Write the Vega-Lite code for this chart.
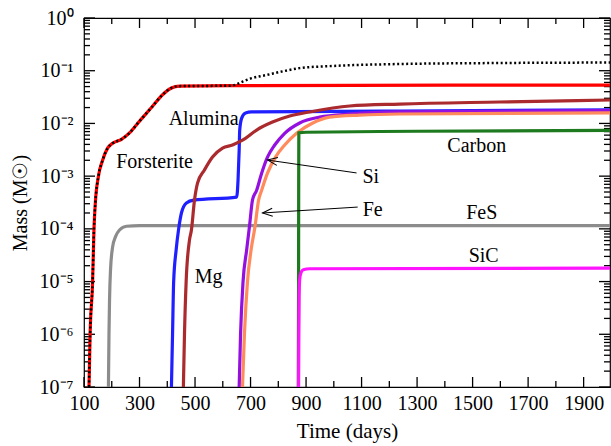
{
  "$schema": "https://vega.github.io/schema/vega-lite/v6.json",
  "width": 526,
  "height": 369,
  "autosize": {"type": "none"},
  "padding": {"left": 84, "top": 18, "right": 1, "bottom": 59},
  "background": "white",
  "config": {
    "view": {"stroke": "black", "strokeWidth": 1.2},
    "axis": {
      "labelFont": "Liberation Serif",
      "labelFontSize": 20,
      "labelColor": "black",
      "titleFont": "Liberation Serif",
      "titleFontSize": 20,
      "titleFontWeight": "normal",
      "titleColor": "black",
      "grid": false,
      "domain": false
    }
  },
  "datasets": {
    "curves": [
      {"s": "FeS", "t": 188, "m": 1e-7},
      {"s": "FeS", "t": 190, "m": 1e-6},
      {"s": "FeS", "t": 192, "m": 4.5e-6},
      {"s": "FeS", "t": 195.5, "m": 1.65e-5},
      {"s": "FeS", "t": 203, "m": 4.5e-5},
      {"s": "FeS", "t": 214, "m": 7.2e-5},
      {"s": "FeS", "t": 228, "m": 9.5e-5},
      {"s": "FeS", "t": 253, "m": 1.12e-4},
      {"s": "FeS", "t": 300, "m": 1.15e-4},
      {"s": "FeS", "t": 1995, "m": 1.15e-4},

      {"s": "Alumina", "t": 415, "m": 1e-7},
      {"s": "Alumina", "t": 419, "m": 1e-6},
      {"s": "Alumina", "t": 423, "m": 1e-5},
      {"s": "Alumina", "t": 432, "m": 4e-5},
      {"s": "Alumina", "t": 441, "m": 1e-4},
      {"s": "Alumina", "t": 451, "m": 2e-4},
      {"s": "Alumina", "t": 469, "m": 3.1e-4},
      {"s": "Alumina", "t": 495, "m": 3.5e-4},
      {"s": "Alumina", "t": 650, "m": 4.0e-4},
      {"s": "Alumina", "t": 655, "m": 8.5e-4},
      {"s": "Alumina", "t": 659, "m": 3.1e-3},
      {"s": "Alumina", "t": 661, "m": 7.5e-3},
      {"s": "Alumina", "t": 668, "m": 1.26e-2},
      {"s": "Alumina", "t": 682, "m": 1.58e-2},
      {"s": "Alumina", "t": 704, "m": 1.65e-2},
      {"s": "Alumina", "t": 1237, "m": 1.72e-2},
      {"s": "Alumina", "t": 1995, "m": 1.8e-2},

      {"s": "Mg", "t": 458, "m": 1e-7},
      {"s": "Mg", "t": 462, "m": 1e-6},
      {"s": "Mg", "t": 468, "m": 1e-5},
      {"s": "Mg", "t": 480, "m": 6.1e-5},
      {"s": "Mg", "t": 487, "m": 9.5e-5},
      {"s": "Mg", "t": 498, "m": 3.5e-4},
      {"s": "Mg", "t": 509, "m": 7.4e-4},
      {"s": "Mg", "t": 534, "m": 1.31e-3},
      {"s": "Mg", "t": 563, "m": 2.3e-3},
      {"s": "Mg", "t": 599, "m": 3.4e-3},
      {"s": "Mg", "t": 635, "m": 3.9e-3},
      {"s": "Mg", "t": 671, "m": 4.8e-3},
      {"s": "Mg", "t": 722, "m": 7.5e-3},
      {"s": "Mg", "t": 779, "m": 1.06e-2},
      {"s": "Mg", "t": 841, "m": 1.38e-2},
      {"s": "Mg", "t": 913, "m": 1.65e-2},
      {"s": "Mg", "t": 1057, "m": 2.14e-2},
      {"s": "Mg", "t": 1237, "m": 2.33e-2},
      {"s": "Mg", "t": 1597, "m": 2.55e-2},
      {"s": "Mg", "t": 1995, "m": 2.78e-2},

      {"s": "Si", "t": 659, "m": 1e-7},
      {"s": "Si", "t": 664, "m": 1e-6},
      {"s": "Si", "t": 673, "m": 1e-5},
      {"s": "Si", "t": 686, "m": 4e-5},
      {"s": "Si", "t": 696, "m": 1.1e-4},
      {"s": "Si", "t": 707, "m": 3.5e-4},
      {"s": "Si", "t": 722, "m": 5.4e-4},
      {"s": "Si", "t": 740, "m": 1.14e-3},
      {"s": "Si", "t": 761, "m": 2.3e-3},
      {"s": "Si", "t": 787, "m": 3.9e-3},
      {"s": "Si", "t": 823, "m": 6.5e-3},
      {"s": "Si", "t": 877, "m": 1.02e-2},
      {"s": "Si", "t": 949, "m": 1.32e-2},
      {"s": "Si", "t": 1057, "m": 1.51e-2},
      {"s": "Si", "t": 1237, "m": 1.65e-2},
      {"s": "Si", "t": 1995, "m": 1.76e-2},

      {"s": "Fe", "t": 671, "m": 1e-7},
      {"s": "Fe", "t": 678, "m": 1e-6},
      {"s": "Fe", "t": 689, "m": 1e-5},
      {"s": "Fe", "t": 702, "m": 4e-5},
      {"s": "Fe", "t": 716, "m": 1.1e-4},
      {"s": "Fe", "t": 729, "m": 3.5e-4},
      {"s": "Fe", "t": 740, "m": 5.4e-4},
      {"s": "Fe", "t": 761, "m": 1.14e-3},
      {"s": "Fe", "t": 790, "m": 2.3e-3},
      {"s": "Fe", "t": 823, "m": 3.9e-3},
      {"s": "Fe", "t": 866, "m": 6.5e-3},
      {"s": "Fe", "t": 924, "m": 1.02e-2},
      {"s": "Fe", "t": 985, "m": 1.32e-2},
      {"s": "Fe", "t": 1093, "m": 1.44e-2},
      {"s": "Fe", "t": 1237, "m": 1.51e-2},
      {"s": "Fe", "t": 1995, "m": 1.58e-2},

      {"s": "Carbon", "t": 872, "m": 1e-7},
      {"s": "Carbon", "t": 873, "m": 1e-5},
      {"s": "Carbon", "t": 873.5, "m": 1e-3},
      {"s": "Carbon", "t": 874, "m": 6.6e-3},
      {"s": "Carbon", "t": 900, "m": 6.8e-3},
      {"s": "Carbon", "t": 1300, "m": 7.1e-3},
      {"s": "Carbon", "t": 1995, "m": 7.4e-3},

      {"s": "SiC", "t": 873, "m": 1e-7},
      {"s": "SiC", "t": 874, "m": 1e-6},
      {"s": "SiC", "t": 875, "m": 5e-6},
      {"s": "SiC", "t": 877, "m": 1.1e-5},
      {"s": "SiC", "t": 882, "m": 1.5e-5},
      {"s": "SiC", "t": 890, "m": 1.68e-5},
      {"s": "SiC", "t": 913, "m": 1.75e-5},
      {"s": "SiC", "t": 1995, "m": 1.8e-5},

      {"s": "Forsterite", "t": 118, "m": 1e-7},
      {"s": "Forsterite", "t": 122, "m": 1e-6},
      {"s": "Forsterite", "t": 131, "m": 1e-5},
      {"s": "Forsterite", "t": 136, "m": 1e-4},
      {"s": "Forsterite", "t": 141, "m": 3.2e-4},
      {"s": "Forsterite", "t": 152, "m": 1e-3},
      {"s": "Forsterite", "t": 167, "m": 2.0e-3},
      {"s": "Forsterite", "t": 185, "m": 3.4e-3},
      {"s": "Forsterite", "t": 203, "m": 4.2e-3},
      {"s": "Forsterite", "t": 235, "m": 5.0e-3},
      {"s": "Forsterite", "t": 264, "m": 6.6e-3},
      {"s": "Forsterite", "t": 293, "m": 1.0e-2},
      {"s": "Forsterite", "t": 343, "m": 2.0e-2},
      {"s": "Forsterite", "t": 383, "m": 3.5e-2},
      {"s": "Forsterite", "t": 415, "m": 4.7e-2},
      {"s": "Forsterite", "t": 444, "m": 5.1e-2},
      {"s": "Forsterite", "t": 624, "m": 5.2e-2},
      {"s": "Forsterite", "t": 1995, "m": 5.35e-2},

      {"s": "Total", "t": 118, "m": 1e-7},
      {"s": "Total", "t": 122, "m": 1e-6},
      {"s": "Total", "t": 131, "m": 1e-5},
      {"s": "Total", "t": 136, "m": 1e-4},
      {"s": "Total", "t": 141, "m": 3.2e-4},
      {"s": "Total", "t": 152, "m": 1e-3},
      {"s": "Total", "t": 167, "m": 2.0e-3},
      {"s": "Total", "t": 185, "m": 3.4e-3},
      {"s": "Total", "t": 203, "m": 4.2e-3},
      {"s": "Total", "t": 235, "m": 5.0e-3},
      {"s": "Total", "t": 264, "m": 6.6e-3},
      {"s": "Total", "t": 293, "m": 1.0e-2},
      {"s": "Total", "t": 343, "m": 2.0e-2},
      {"s": "Total", "t": 383, "m": 3.5e-2},
      {"s": "Total", "t": 415, "m": 4.7e-2},
      {"s": "Total", "t": 444, "m": 5.1e-2},
      {"s": "Total", "t": 624, "m": 5.2e-2},
      {"s": "Total", "t": 645, "m": 5.4e-2},
      {"s": "Total", "t": 668, "m": 6.1e-2},
      {"s": "Total", "t": 696, "m": 7.0e-2},
      {"s": "Total", "t": 758, "m": 8.3e-2},
      {"s": "Total", "t": 823, "m": 9.9e-2},
      {"s": "Total", "t": 877, "m": 0.112},
      {"s": "Total", "t": 996, "m": 0.123},
      {"s": "Total", "t": 1237, "m": 0.134},
      {"s": "Total", "t": 1598, "m": 0.14},
      {"s": "Total", "t": 1995, "m": 0.143}
    ],
    "labels": [
      {"s": "Forsterite", "t": 354, "m": 1.85e-3},
      {"s": "Alumina", "t": 531, "m": 0.0121},
      {"s": "Carbon", "t": 1515, "m": 3.7e-3},
      {"s": "Si", "t": 1133, "m": 9.6e-4},
      {"s": "Fe", "t": 1140, "m": 2.27e-4},
      {"s": "FeS", "t": 1533, "m": 2.0e-4},
      {"s": "SiC", "t": 1540, "m": 3.05e-5},
      {"s": "Mg", "t": 549, "m": 1.22e-5}
    ],
    "arrows": [
      {"s": "Si", "t": 761, "m": 2.02e-3, "t2": 1082, "m2": 1.15e-3},
      {"s": "Fe", "t": 743, "m": 2.0e-4, "t2": 1086, "m2": 2.59e-4}
    ]
  },
  "layer": [
    {
      "data": {"name": "labels"},
      "mark": {"type": "point", "opacity": 0},
      "encoding": {
        "x": {
          "field": "t", "type": "quantitative",
          "scale": {"domain": [100, 1995], "nice": false, "zero": false},
          "axis": {"orient": "top", "labels": false, "title": null, "values": [100,300,500,700,900,1100,1300,1500,1700,1900], "tickColor": "black", "tickWidth": 1.3, "tickSize": 10, "offset": -10, "tickRound": false, "translate": 0}
        },
        "y": {
          "field": "m", "type": "quantitative",
          "scale": {"type": "log", "domain": [1e-7, 1], "nice": false},
          "axis": {"orient": "right", "labels": false, "title": null, "values": [1e-7,1e-6,1e-5,1e-4,1e-3,1e-2,0.1,1], "tickColor": "black", "tickWidth": 1.3, "tickSize": 11, "offset": -11, "tickRound": false, "translate": 0}
        }
      }
    },
    {
      "data": {"name": "curves"},
      "transform": [{"filter": "datum.s != 'Total'"}],
      "mark": {"type": "line", "interpolate": "monotone", "strokeWidth": 3.2, "clip": true},
      "encoding": {
        "x": {
          "field": "t", "type": "quantitative",
          "scale": {"domain": [100, 1995], "nice": false, "zero": false},
          "axis": {
            "orient": "bottom", "title": "Time (days)", "ticks": false,
            "values": [100,300,500,700,900,1100,1300,1500,1700,1900],
            "labelExpr": "datum.value + ''",
            "titleFontSize": 21,
            "labelPadding": 6, "titlePadding": 7, "labelFlush": false, "labelOverlap": false
          }
        },
        "y": {
          "field": "m", "type": "quantitative",
          "scale": {"type": "log", "domain": [1e-7, 1], "nice": false},
          "axis": {
            "orient": "left", "title": "Mass (M☉)", "ticks": false,
            "values": [1e-7,1e-6,1e-5,1e-4,1e-3,1e-2,0.1,1],
            "labelExpr": "'10' + ['⁰','⁻¹','⁻²','⁻³','⁻⁴','⁻⁵','⁻⁶','⁻⁷'][-round(log(datum.value)/LN10)]",
            "labelPadding": 11, "titlePadding": 9, "labelFlush": false, "labelOverlap": false
          }
        },
        "color": {
          "field": "s", "type": "nominal", "legend": null,
          "scale": {
            "domain": ["FeS", "Alumina", "Mg", "Si", "Fe", "Carbon", "SiC", "Forsterite"],
            "range": ["#8c8c8c", "#1f1fff", "#ab2a2e", "#9410e0", "#ff8a5c", "#1e7a1e", "#ff14ff", "#ff0000"]
          }
        }
      }
    },
    {
      "data": {"name": "labels"},
      "mark": {"type": "point", "opacity": 0},
      "encoding": {
        "x": {"field": "t", "type": "quantitative", "axis": {"orient": "bottom", "labels": false, "title": null, "values": [100,300,500,700,900,1100,1300,1500,1700,1900], "tickColor": "black", "tickWidth": 1.3, "tickSize": 10, "offset": -10, "tickRound": false, "translate": 0}},
        "y": {"field": "m", "type": "quantitative", "axis": {"orient": "left", "labels": false, "title": null, "values": [1e-7,1e-6,1e-5,1e-4,1e-3,1e-2,0.1,1], "tickColor": "black", "tickWidth": 1.3, "tickSize": 11, "offset": -11, "tickRound": false, "translate": 0}}
      }
    },
    {
      "data": {"name": "labels"},
      "mark": {"type": "point", "opacity": 0},
      "encoding": {
        "x": {"field": "t", "type": "quantitative", "axis": {"orient": "bottom", "labels": false, "title": null, "values": [200,400,600,800,1000,1200,1400,1600,1800], "tickColor": "black", "tickWidth": 1.3, "tickSize": 6, "offset": -6, "tickRound": false, "translate": 0}},
        "y": {"field": "m", "type": "quantitative", "axis": {"orient": "left", "labels": false, "title": null, "values": [2e-7,3e-7,4e-7,5e-7,6e-7,7e-7,8e-7,9e-7,2e-6,3e-6,4e-6,5e-6,6e-6,7e-6,8e-6,9e-6,2e-5,3e-5,4e-5,5e-5,6e-5,7e-5,8e-5,9e-5,2e-4,3e-4,4e-4,5e-4,6e-4,7e-4,8e-4,9e-4,2e-3,3e-3,4e-3,5e-3,6e-3,7e-3,8e-3,9e-3,2e-2,3e-2,4e-2,5e-2,6e-2,7e-2,8e-2,9e-2,0.2,0.3,0.4,0.5,0.6,0.7,0.8,0.9], "tickColor": "black", "tickWidth": 1.3, "tickSize": 6, "offset": -6, "tickRound": false, "translate": 0}}
      }
    },
    {
      "data": {"name": "labels"},
      "mark": {"type": "point", "opacity": 0},
      "encoding": {
        "x": {"field": "t", "type": "quantitative", "axis": {"orient": "top", "labels": false, "title": null, "values": [200,400,600,800,1000,1200,1400,1600,1800], "tickColor": "black", "tickWidth": 1.3, "tickSize": 6, "offset": -6, "tickRound": false, "translate": 0}},
        "y": {"field": "m", "type": "quantitative", "axis": {"orient": "right", "labels": false, "title": null, "values": [2e-7,3e-7,4e-7,5e-7,6e-7,7e-7,8e-7,9e-7,2e-6,3e-6,4e-6,5e-6,6e-6,7e-6,8e-6,9e-6,2e-5,3e-5,4e-5,5e-5,6e-5,7e-5,8e-5,9e-5,2e-4,3e-4,4e-4,5e-4,6e-4,7e-4,8e-4,9e-4,2e-3,3e-3,4e-3,5e-3,6e-3,7e-3,8e-3,9e-3,2e-2,3e-2,4e-2,5e-2,6e-2,7e-2,8e-2,9e-2,0.2,0.3,0.4,0.5,0.6,0.7,0.8,0.9], "tickColor": "black", "tickWidth": 1.3, "tickSize": 6, "offset": -6, "tickRound": false, "translate": 0}}
      }
    },
    {
      "data": {"name": "curves"},
      "transform": [{"filter": "datum.s == 'Total'"}],
      "mark": {"type": "line", "interpolate": "monotone", "strokeWidth": 2.5, "color": "black", "strokeDash": [2, 2.5], "clip": true},
      "encoding": {
        "x": {"field": "t", "type": "quantitative", "axis": null},
        "y": {"field": "m", "type": "quantitative", "axis": null}
      }
    },
    {
      "data": {"name": "arrows"},
      "mark": {"type": "rule", "color": "black", "strokeWidth": 1},
      "encoding": {
        "x": {"field": "t", "type": "quantitative", "axis": null},
        "y": {"field": "m", "type": "quantitative", "axis": null},
        "x2": {"field": "t2"},
        "y2": {"field": "m2"}
      }
    },
    {
      "data": {"name": "arrows"},
      "mark": {"type": "point", "shape": "M2,-0.8L0,0L2,0.8", "filled": false, "stroke": "black", "strokeWidth": 1, "size": 100, "opacity": 1},
      "encoding": {
        "x": {"field": "t", "type": "quantitative", "axis": null},
        "y": {"field": "m", "type": "quantitative", "axis": null},
        "angle": {"condition": {"test": "datum.s == 'Si'", "value": 8}, "value": -4}
      }
    },
    {
      "data": {"name": "labels"},
      "mark": {"type": "text", "font": "Liberation Serif", "fontSize": 20, "color": "black", "align": "center", "baseline": "middle"},
      "encoding": {
        "x": {"field": "t", "type": "quantitative", "axis": null},
        "y": {"field": "m", "type": "quantitative", "axis": null},
        "text": {"field": "s"}
      }
    }
  ]
}
